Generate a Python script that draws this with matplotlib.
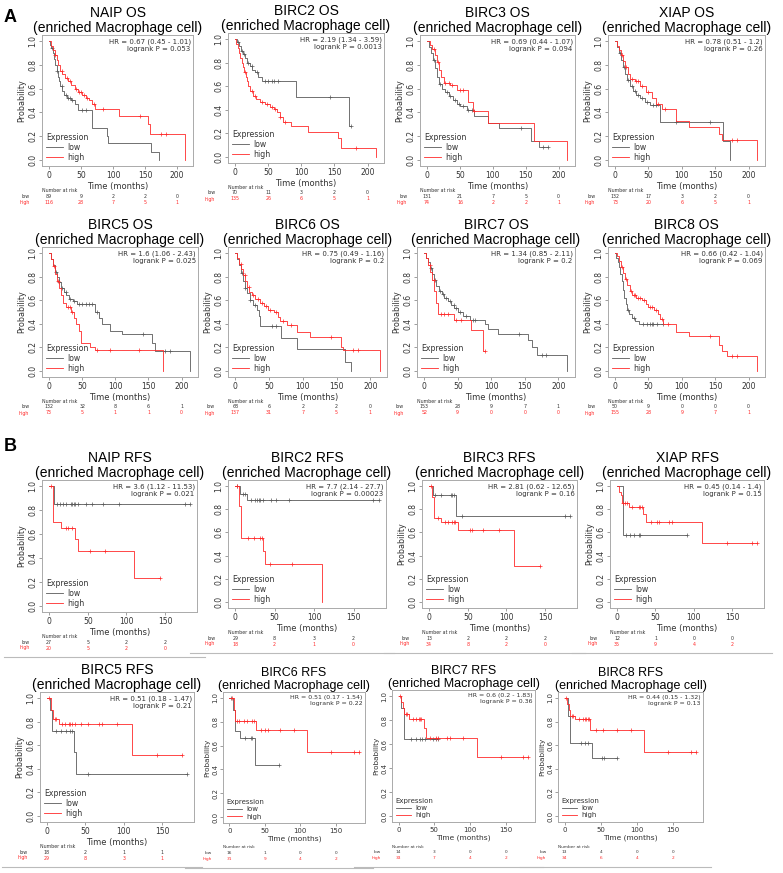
import matplotlib
matplotlib.use("Agg")
import matplotlib.pyplot as plt
from matplotlib.lines import Line2D
from matplotlib.transforms import blended_transform_factory

# ---------------- data ----------------
# A: overall survival
naip_os_low_t = [0, 2, 4, 6, 8, 10, 12, 14, 16, 18, 21, 24, 28, 35, 40, 45, 67, 90, 92, 160, 171]
naip_os_low_s = [1.0, 0.97, 0.94, 0.9, 0.85, 0.8, 0.75, 0.7, 0.66, 0.62, 0.58, 0.55, 0.52, 0.5, 0.47, 0.42, 0.27, 0.2, 0.14, 0.07, 0.0]
naip_os_low_c = [5, 12, 20, 26, 30, 33, 36, 52, 58]
naip_os_high_t = [0, 3, 6, 9, 12, 15, 18, 21, 25, 30, 35, 40, 45, 52, 58, 63, 68, 72, 110, 155, 158, 213]
naip_os_high_s = [1.0, 0.96, 0.92, 0.88, 0.84, 0.8, 0.75, 0.72, 0.69, 0.66, 0.63, 0.6, 0.57, 0.55, 0.52, 0.5, 0.47, 0.43, 0.37, 0.3, 0.22, 0.0]
naip_os_high_c = [10, 20, 28, 33, 42, 47, 50, 55, 60, 70, 85, 142, 175, 182]

birc2_os_low_t = [0, 3, 6, 9, 12, 15, 18, 22, 26, 30, 35, 40, 92, 172]
birc2_os_low_s = [1.0, 0.97, 0.94, 0.9, 0.87, 0.84, 0.8, 0.77, 0.74, 0.72, 0.68, 0.64, 0.51, 0.26]
birc2_os_low_c = [5, 10, 14, 20, 25, 33, 45, 50, 55, 58, 65, 143, 175]
birc2_os_high_t = [0, 2, 4, 6, 8, 10, 12, 14, 16, 18, 20, 23, 27, 32, 38, 45, 52, 58, 63, 68, 72, 85, 110, 155, 160, 213]
birc2_os_high_s = [1.0, 0.96, 0.92, 0.88, 0.84, 0.8, 0.76, 0.72, 0.68, 0.64, 0.6, 0.56, 0.52, 0.49, 0.47, 0.45, 0.42, 0.41, 0.38, 0.34, 0.3, 0.26, 0.21, 0.16, 0.08, 0.0]
birc2_os_high_c = [15, 25, 30, 40, 48, 55, 60, 68, 75, 182]

birc3_os_low_t = [0, 3, 6, 9, 12, 15, 18, 22, 27, 33, 40, 45, 50, 60, 72, 92, 110, 158, 170]
birc3_os_low_s = [1.0, 0.95, 0.9, 0.84, 0.77, 0.7, 0.64, 0.6, 0.57, 0.54, 0.5, 0.47, 0.45, 0.42, 0.37, 0.31, 0.27, 0.16, 0.11]
birc3_os_low_c = [10, 20, 30, 35, 42, 48, 55, 62, 68, 142, 176, 183]
birc3_os_high_t = [0, 4, 8, 12, 15, 18, 21, 25, 35, 45, 62, 70, 92, 162, 213]
birc3_os_high_s = [1.0, 0.97, 0.93, 0.88, 0.82, 0.76, 0.7, 0.65, 0.63, 0.59, 0.49, 0.41, 0.31, 0.16, 0.0]
birc3_os_high_c = [10, 17, 28, 33, 38, 50, 55, 72]

xiap_os_low_t = [0, 3, 6, 9, 12, 15, 18, 22, 27, 32, 38, 45, 52, 68, 162, 172]
xiap_os_low_s = [1.0, 0.95, 0.9, 0.84, 0.78, 0.72, 0.67, 0.62, 0.58, 0.55, 0.52, 0.49, 0.46, 0.32, 0.16, 0.0]
xiap_os_low_c = [8, 14, 20, 25, 30, 35, 40, 48, 57, 62, 92, 142]
xiap_os_high_t = [0, 3, 6, 9, 12, 15, 19, 23, 30, 38, 47, 55, 62, 70, 92, 110, 155, 160, 213]
xiap_os_high_s = [1.0, 0.96, 0.92, 0.88, 0.83, 0.78, 0.72, 0.68, 0.66, 0.62, 0.57, 0.52, 0.47, 0.43, 0.33, 0.28, 0.22, 0.17, 0.0]
xiap_os_high_c = [10, 17, 25, 32, 35, 40, 50, 65, 75, 175, 182]

birc5_os_low_t = [0, 3, 6, 9, 12, 15, 18, 22, 26, 30, 36, 42, 70, 75, 80, 92, 110, 155, 160, 213]
birc5_os_low_s = [1.0, 0.95, 0.9, 0.84, 0.8, 0.75, 0.7, 0.67, 0.64, 0.61, 0.59, 0.57, 0.5, 0.45, 0.4, 0.34, 0.31, 0.24, 0.17, 0.0]
birc5_os_low_c = [10, 15, 20, 25, 32, 38, 45, 50, 55, 60, 65, 72, 142, 175, 182]
birc5_os_high_t = [0, 3, 6, 9, 12, 15, 18, 21, 25, 33, 37, 41, 45, 48, 62, 70, 172]
birc5_os_high_s = [1.0, 0.95, 0.89, 0.82, 0.76, 0.7, 0.64, 0.58, 0.54, 0.5, 0.45, 0.4, 0.34, 0.24, 0.2, 0.18, 0.0]
birc5_os_high_c = [8, 14, 28, 32, 35, 72, 92, 135]

birc6_os_low_t = [0, 3, 6, 9, 12, 15, 18, 22, 27, 32, 35, 37, 68, 92, 162, 172]
birc6_os_low_s = [1.0, 0.95, 0.9, 0.83, 0.76, 0.7, 0.66, 0.6, 0.56, 0.52, 0.47, 0.38, 0.28, 0.19, 0.08, 0.0]
birc6_os_low_c = [10, 15, 22, 30, 55, 60]
birc6_os_high_t = [0, 3, 6, 9, 12, 15, 18, 21, 25, 30, 36, 42, 48, 58, 63, 67, 77, 92, 110, 157, 160, 214]
birc6_os_high_s = [1.0, 0.96, 0.91, 0.86, 0.81, 0.76, 0.71, 0.67, 0.64, 0.61, 0.58, 0.55, 0.52, 0.5, 0.46, 0.42, 0.39, 0.33, 0.29, 0.2, 0.18, 0.0]
birc6_os_high_c = [8, 14, 20, 26, 33, 40, 45, 52, 60, 70, 82, 142, 175, 182]

birc7_os_low_t = [0, 3, 6, 9, 12, 15, 18, 22, 26, 30, 35, 40, 45, 50, 58, 68, 90, 95, 110, 155, 160, 168, 213]
birc7_os_low_s = [1.0, 0.96, 0.92, 0.87, 0.82, 0.77, 0.72, 0.68, 0.65, 0.62, 0.59, 0.56, 0.53, 0.5, 0.47, 0.43, 0.4, 0.36, 0.31, 0.26, 0.2, 0.14, 0.0]
birc7_os_low_c = [10, 16, 24, 28, 33, 38, 44, 48, 54, 62, 72, 76, 142, 175, 182]
birc7_os_high_t = [0, 3, 6, 9, 12, 15, 18, 21, 45, 70, 88]
birc7_os_high_s = [1.0, 0.96, 0.9, 0.84, 0.77, 0.68, 0.58, 0.48, 0.43, 0.35, 0.17]
birc7_os_high_c = [8, 14, 25, 30, 35, 48, 55, 90]

birc8_os_low_t = [0, 2, 4, 6, 8, 10, 12, 14, 16, 18, 21, 25, 30, 36]
birc8_os_low_s = [1.0, 0.96, 0.92, 0.88, 0.82, 0.76, 0.69, 0.62, 0.57, 0.52, 0.48, 0.45, 0.42, 0.4]
birc8_os_low_c = [20, 28, 42, 48, 52, 55, 57, 63, 72]
birc8_os_high_t = [0, 3, 6, 9, 12, 15, 18, 22, 26, 32, 40, 46, 50, 58, 64, 68, 72, 92, 110, 155, 160, 168, 213]
birc8_os_high_s = [1.0, 0.97, 0.93, 0.88, 0.83, 0.78, 0.73, 0.68, 0.64, 0.62, 0.6, 0.57, 0.54, 0.52, 0.48, 0.44, 0.4, 0.33, 0.3, 0.22, 0.17, 0.13, 0.0]
birc8_os_high_c = [10, 16, 24, 28, 30, 34, 38, 44, 52, 55, 62, 70, 80, 142, 175, 182]

# B: relapse free survival
naip_rfs_low_t = [0, 6]
naip_rfs_low_s = [1.0, 0.85]
naip_rfs_low_c = [10, 14, 18, 22, 28, 30, 32, 34, 38, 48, 55, 70, 90, 175, 182]
naip_rfs_high_t = [0, 5, 15, 33, 37, 110]
naip_rfs_high_s = [1.0, 0.7, 0.65, 0.56, 0.46, 0.23]
naip_rfs_high_c = [2, 22, 25, 30, 53, 72, 143]

birc2_rfs_low_t = [0, 6, 15]
birc2_rfs_low_s = [1.0, 0.93, 0.88]
birc2_rfs_low_c = [2, 10, 12, 20, 25, 28, 30, 32, 35, 45, 52, 68, 175, 182]
birc2_rfs_high_t = [0, 5, 7, 35, 38, 110]
birc2_rfs_high_s = [1.0, 0.83, 0.55, 0.44, 0.33, 0.0]
birc2_rfs_high_c = [2, 16, 24, 32, 34, 44, 72]

birc3_rfs_low_t = [0, 5, 35]
birc3_rfs_low_s = [1.0, 0.92, 0.74]
birc3_rfs_low_c = [8, 15, 28, 30, 32, 42, 175, 182]
birc3_rfs_high_t = [0, 4, 7, 15, 38, 110]
birc3_rfs_high_s = [1.0, 0.9, 0.72, 0.69, 0.62, 0.31]
birc3_rfs_high_c = [2, 12, 20, 25, 30, 32, 34, 53, 56, 70, 90, 143]

xiap_rfs_low_t = [0, 8]
xiap_rfs_low_s = [1.0, 0.58]
xiap_rfs_low_c = [12, 17, 22, 28, 30, 91]
xiap_rfs_high_t = [0, 3, 5, 7, 15, 34, 38, 110]
xiap_rfs_high_s = [1.0, 0.95, 0.92, 0.85, 0.82, 0.76, 0.69, 0.51]
xiap_rfs_high_c = [8, 10, 13, 20, 28, 30, 32, 44, 52, 55, 68, 72, 143, 175, 182]

birc5_rfs_low_t = [0, 4, 7, 35, 38]
birc5_rfs_low_s = [1.0, 0.9, 0.72, 0.54, 0.36]
birc5_rfs_low_c = [12, 18, 25, 30, 33, 53, 182]
birc5_rfs_high_t = [0, 5, 8, 15, 110]
birc5_rfs_high_s = [1.0, 0.9, 0.82, 0.78, 0.52]
birc5_rfs_high_c = [2, 10, 12, 20, 23, 28, 30, 33, 36, 44, 53, 68, 72, 91, 143, 175]

birc6_rfs_low_t = [0, 5, 8, 15, 36]
birc6_rfs_low_s = [1.0, 0.9, 0.72, 0.66, 0.44]
birc6_rfs_low_c = [2, 22, 30, 32, 70]
birc6_rfs_high_t = [0, 6, 8, 37, 110]
birc6_rfs_high_s = [1.0, 0.9, 0.81, 0.73, 0.55]
birc6_rfs_high_c = [3, 10, 14, 20, 25, 32, 34, 44, 50, 55, 71, 91, 143, 175, 182]

birc7_rfs_low_t = [0, 4, 7]
birc7_rfs_low_s = [1.0, 0.9, 0.64]
birc7_rfs_low_c = [17, 25, 30, 33, 37, 48, 52, 55]
birc7_rfs_high_t = [0, 3, 6, 8, 15, 35, 38, 110]
birc7_rfs_high_s = [1.0, 0.95, 0.9, 0.85, 0.81, 0.73, 0.65, 0.49]
birc7_rfs_high_c = [2, 10, 12, 20, 25, 28, 30, 32, 44, 53, 55, 68, 72, 91, 143, 175, 182]

birc8_rfs_low_t = [0, 5, 7, 38]
birc8_rfs_low_s = [1.0, 0.85, 0.62, 0.49]
birc8_rfs_low_c = [22, 28, 33, 52, 55, 72]
birc8_rfs_high_t = [0, 4, 6, 8, 15, 35, 110]
birc8_rfs_high_s = [1.0, 0.95, 0.9, 0.85, 0.82, 0.73, 0.54]
birc8_rfs_high_c = [2, 10, 12, 20, 25, 28, 30, 32, 34, 44, 53, 72, 91, 143, 175, 182]

titles = ["NAIP OS", "BIRC2 OS", "BIRC3 OS", "XIAP OS",
          "BIRC5 OS", "BIRC6 OS", "BIRC7 OS", "BIRC8 OS",
          "NAIP RFS", "BIRC2 RFS", "BIRC3 RFS", "XIAP RFS",
          "BIRC5 RFS", "BIRC6 RFS", "BIRC7 RFS", "BIRC8 RFS"]
hr_text = ["0.67 (0.45 - 1.01)", "2.19 (1.34 - 3.59)", "0.69 (0.44 - 1.07)", "0.78 (0.51 - 1.2)",
           "1.6 (1.06 - 2.43)", "0.75 (0.49 - 1.16)", "1.34 (0.85 - 2.11)", "0.66 (0.42 - 1.04)",
           "3.6 (1.12 - 11.53)", "7.7 (2.14 - 27.7)", "2.81 (0.62 - 12.65)", "0.45 (0.14 - 1.4)",
           "0.51 (0.18 - 1.47)", "0.51 (0.17 - 1.54)", "0.6 (0.2 - 1.83)", "0.44 (0.15 - 1.32)"]
p_text = ["0.053", "0.0013", "0.094", "0.26", "0.025", "0.2", "0.2", "0.069",
          "0.021", "0.00023", "0.16", "0.15", "0.21", "0.22", "0.36", "0.13"]
risk_low = [[89, 9, 2, 2, 0], [70, 11, 3, 2, 0], [131, 21, 7, 5, 0], [132, 17, 3, 2, 0],
            [132, 32, 8, 6, 1], [68, 6, 2, 2, 0], [153, 28, 9, 7, 1], [50, 9, 0, 0, 0],
            [27, 5, 2, 2], [29, 8, 3, 2], [13, 2, 2, 2], [12, 1, 0, 0],
            [18, 2, 1, 1], [16, 1, 0, 0], [14, 3, 0, 0], [13, 4, 0, 0]]
risk_high = [[116, 28, 7, 5, 1], [135, 26, 6, 5, 1], [74, 16, 2, 2, 1], [73, 20, 6, 5, 1],
             [73, 5, 1, 1, 0], [137, 31, 7, 5, 1], [52, 9, 0, 0, 0], [155, 28, 9, 7, 1],
             [20, 5, 2, 0], [18, 2, 1, 0], [34, 8, 2, 0], [35, 9, 4, 2],
             [29, 8, 3, 1], [31, 9, 4, 2], [33, 7, 4, 2], [34, 6, 4, 2]]

curves = [
    (naip_os_low_t, naip_os_low_s, naip_os_low_c, naip_os_high_t, naip_os_high_s, naip_os_high_c),
    (birc2_os_low_t, birc2_os_low_s, birc2_os_low_c, birc2_os_high_t, birc2_os_high_s, birc2_os_high_c),
    (birc3_os_low_t, birc3_os_low_s, birc3_os_low_c, birc3_os_high_t, birc3_os_high_s, birc3_os_high_c),
    (xiap_os_low_t, xiap_os_low_s, xiap_os_low_c, xiap_os_high_t, xiap_os_high_s, xiap_os_high_c),
    (birc5_os_low_t, birc5_os_low_s, birc5_os_low_c, birc5_os_high_t, birc5_os_high_s, birc5_os_high_c),
    (birc6_os_low_t, birc6_os_low_s, birc6_os_low_c, birc6_os_high_t, birc6_os_high_s, birc6_os_high_c),
    (birc7_os_low_t, birc7_os_low_s, birc7_os_low_c, birc7_os_high_t, birc7_os_high_s, birc7_os_high_c),
    (birc8_os_low_t, birc8_os_low_s, birc8_os_low_c, birc8_os_high_t, birc8_os_high_s, birc8_os_high_c),
    (naip_rfs_low_t, naip_rfs_low_s, naip_rfs_low_c, naip_rfs_high_t, naip_rfs_high_s, naip_rfs_high_c),
    (birc2_rfs_low_t, birc2_rfs_low_s, birc2_rfs_low_c, birc2_rfs_high_t, birc2_rfs_high_s, birc2_rfs_high_c),
    (birc3_rfs_low_t, birc3_rfs_low_s, birc3_rfs_low_c, birc3_rfs_high_t, birc3_rfs_high_s, birc3_rfs_high_c),
    (xiap_rfs_low_t, xiap_rfs_low_s, xiap_rfs_low_c, xiap_rfs_high_t, xiap_rfs_high_s, xiap_rfs_high_c),
    (birc5_rfs_low_t, birc5_rfs_low_s, birc5_rfs_low_c, birc5_rfs_high_t, birc5_rfs_high_s, birc5_rfs_high_c),
    (birc6_rfs_low_t, birc6_rfs_low_s, birc6_rfs_low_c, birc6_rfs_high_t, birc6_rfs_high_s, birc6_rfs_high_c),
    (birc7_rfs_low_t, birc7_rfs_low_s, birc7_rfs_low_c, birc7_rfs_high_t, birc7_rfs_high_s, birc7_rfs_high_c),
    (birc8_rfs_low_t, birc8_rfs_low_s, birc8_rfs_low_c, birc8_rfs_high_t, birc8_rfs_high_s, birc8_rfs_high_c),
]

# ---------------- layout (pixel boxes: left, top, right, bottom) ----------------
W, H = 783, 873
boxes = [(42, 35, 193, 166), (228, 33, 384, 163), (420, 35, 575, 166), (608, 35, 765, 166),
         (42, 247, 198, 377), (228, 247, 387, 377), (417, 247, 575, 377), (608, 247, 765, 377),
         (42, 480, 197, 612), (228, 480, 386, 608), (422, 480, 577, 608), (610, 480, 764, 608),
         (40, 692, 194, 822), (223, 692, 365, 823), (392, 690, 535, 822), (558, 692, 703, 822)]
# the last three panels are pasted in slightly smaller
scale = [1.0] * 13 + [0.9] * 3
hide_ylabel = [1, 9]

LOW = "#5a5a5a"
HIGH = "#ff2a2a"
TXT = "#333333"

fig = plt.figure(figsize=(W / 100, H / 100), dpi=100)


def surv_at(ts, ss, x):
    v = ss[0]
    for t, s in zip(ts, ss):
        if t <= x:
            v = s
    return v


def draw_curve(ax, ts, ss, cens, color):
    end = max(ts[-1], max(cens))
    ax.step(list(ts) + [end], list(ss) + [ss[-1]], where="post", color=color, lw=0.6)
    ax.plot(cens, [surv_at(ts, ss, c) for c in cens], "+", color=color, ms=2.6, mew=0.5)


for i, (l, t, r, b) in enumerate(boxes):
    os_panel = i < 8
    f = scale[i]
    ax = fig.add_axes([l / W, 1 - b / H, (r - l) / W, (b - t) / H])
    lt, ls, lc, ht, hs, hc = curves[i]
    draw_curve(ax, lt, ls, lc, LOW)
    draw_curve(ax, ht, hs, hc, HIGH)

    ticks = [0, 50, 100, 150, 200] if os_panel else [0, 50, 100, 150]
    ax.set_xlim((-10.7, 224.7) if os_panel else (-9.1, 191.1))
    ax.set_ylim(-0.05, 1.05)
    ax.set_xticks(ticks)
    ax.set_yticks([0, 0.2, 0.4, 0.6, 0.8, 1.0])
    ax.set_yticklabels(["0.0", "0.2", "0.4", "0.6", "0.8", "1.0"], rotation=90, va="center")
    ax.tick_params(labelsize=5.5 * f, length=2, width=0.5, pad=1.5, colors="#777777",
                   labelcolor=TXT)
    for sp in ax.spines.values():
        sp.set_color("#aaaaaa")
        sp.set_linewidth(0.7)
    ax.set_xlabel("Time (months)", fontsize=6 * f, color=TXT, labelpad=1.5)
    if i not in hide_ylabel:
        ax.set_ylabel("Probability", fontsize=5.8 * f, color=TXT, labelpad=1.5)

    ax.set_title(titles[i] + "\n(enriched Macrophage cell)", fontsize=10 * f,
                 family="Liberation Sans", pad=1.5, linespacing=1.1)
    ax.text(0.985, 0.975, "HR = " + hr_text[i] + "\nlogrank P = " + p_text[i],
            transform=ax.transAxes, ha="right", va="top", fontsize=5 * f, color=TXT,
            linespacing=1.25)

    handles = [Line2D([], [], color=LOW, lw=0.6), Line2D([], [], color=HIGH, lw=0.6)]
    leg = ax.legend(handles, ["low", "high"], title="Expression", loc="lower left",
                    frameon=False, fontsize=5.6 * f, title_fontsize=5.6 * f, alignment="left",
                    handlelength=2.2, handletextpad=0.6, labelspacing=0.15,
                    borderaxespad=0.3, borderpad=0.2)
    for txt in leg.get_texts():
        txt.set_color(TXT)
    leg.get_title().set_color(TXT)

    # number at risk table under the axes
    tr = blended_transform_factory(ax.transData, fig.transFigure)
    x0 = ax.get_xlim()[0]
    lab_x = -30 if os_panel else -25
    fs = 3.4 * f
    ax.text(x0, 1 - (b + 24.5) / H, "Number at risk", transform=tr, fontsize=fs,
            color=TXT, ha="left", va="center", clip_on=False)
    ax.text(lab_x, 1 - (b + 30) / H, "low", transform=tr,
            fontsize=fs, color=TXT, ha="right", va="center")
    ax.text(lab_x, 1 - (b + 36) / H, "high", transform=tr,
            fontsize=fs, color=HIGH, ha="right", va="center")
    for k, tk in enumerate(ticks):
        ax.text(tk, 1 - (b + 30) / H, str(risk_low[i][k]), transform=tr, fontsize=fs,
                color=TXT, ha="center", va="center")
        ax.text(tk, 1 - (b + 36) / H, str(risk_high[i][k]), transform=tr, fontsize=fs,
                color=HIGH, ha="center", va="center")

    if not os_panel:
        y_sep = 1 - (b + 45) / H
        fig.add_artist(Line2D([(l - 38) / W, (r + 8) / W], [y_sep, y_sep],
                              color="#bbbbbb", lw=0.8))

fig.text(10 / W, 1 - 17 / H, "A", fontsize=13, weight="bold", family="Liberation Sans",
         ha="center", va="center")
fig.text(10 / W, 1 - 447 / H, "B", fontsize=13, weight="bold", family="Liberation Sans",
         ha="center", va="center")

fig.savefig("out.png", dpi=100)
